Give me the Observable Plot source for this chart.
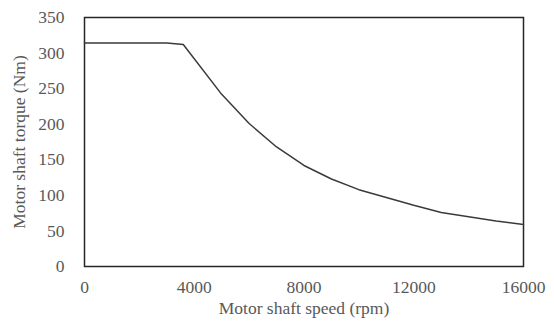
<!DOCTYPE html>
<html>
<head>
<meta charset="utf-8">
<script src="https://cdn.jsdelivr.net/npm/d3@7"></script>
<script src="https://cdn.jsdelivr.net/npm/@observablehq/plot@0.6"></script>
<style>
  html, body { margin: 0; padding: 0; background: #fff; }
  #chart svg { display: block; }
</style>
</head>
<body>
<div id="chart"></div>
<script>
const speed  = [0, 3000, 3600, 5000, 6000, 7000, 8000, 9000, 10000, 11000, 12000, 13000, 14000, 15000, 16000];
const torque = [314, 314, 312, 242, 201, 168, 142, 123, 108, 97, 86, 76, 70, 64, 59];
const xTicks = [0, 4000, 8000, 12000, 16000];
const yTicks = [0, 50, 100, 150, 200, 250, 300, 350];

const data = speed.map((s, i) => ({speed: s, torque: torque[i]}));

const chart = Plot.plot({
  width: 554,
  height: 325,
  marginLeft: 84,
  marginRight: 31,
  marginTop: 17,
  marginBottom: 59,
  style: {fontFamily: "'Liberation Serif', 'Times New Roman', serif", fontSize: "17.5px", color: "#595959", background: "#fff"},
  x: {domain: [0, 16000]},
  y: {domain: [0, 350]},
  marks: [
    Plot.axisX({ticks: xTicks, tickSize: 0, tickPadding: 14, tickFormat: d => String(d), label: null, fontSize: 17.5}),
    Plot.axisX({ticks: [], tickSize: 0, label: "Motor shaft speed (rpm)", labelAnchor: "center", labelArrow: "none", labelOffset: 47, fontSize: 17.5}),
    Plot.axisY({ticks: yTicks, tickSize: 0, tickPadding: 20, tickFormat: d => String(d), label: "Motor shaft torque (Nm)", labelAnchor: "center", labelArrow: "none", labelOffset: 72, fontSize: 17.5}),
    Plot.frame({stroke: "#262626", strokeWidth: 1.5}),
    Plot.line(data, {x: "speed", y: "torque", stroke: "#3a3a3a", strokeWidth: 1.5})
  ]
});
document.getElementById("chart").appendChild(chart);
</script>
</body>
</html>
